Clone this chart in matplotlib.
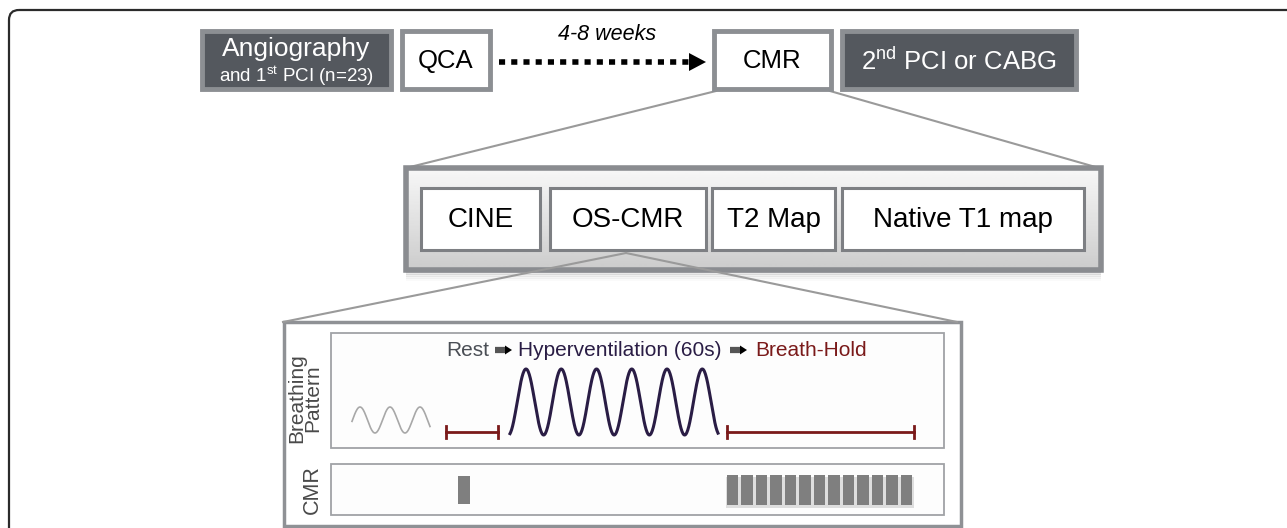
import numpy as np
import matplotlib
matplotlib.use("Agg")
import matplotlib.pyplot as plt
from matplotlib.patches import Rectangle, FancyBboxPatch, Polygon

plt.rcParams['font.family'] = ['Liberation Sans', 'DejaVu Sans']
plt.rcParams['mathtext.fontset'] = 'custom'
plt.rcParams['mathtext.rm'] = 'Liberation Sans'
plt.rcParams['mathtext.it'] = 'Liberation Sans:italic'

# diagram content
top_steps = ['Angiography', 'QCA', 'CMR', r'2$^{\mathrm{nd}}$ PCI or CABG']
top_sub = r'and 1$^{\mathrm{st}}$ PCI (n=23)'
interval = '4-8 weeks'
cmr_parts = ['CINE', 'OS-CMR', 'T2 Map', 'Native T1 map']
phases = ['Rest', 'Hyperventilation (60s)', 'Breath-Hold']
rest_cycles = 2.6
hv_cycles = 5.9
n_breathhold_scans = 13
row_labels = ['Breathing\nPattern', 'CMR']

dark = '#54585e'
edge = '#8c8f93'
purple = '#2a1d45'
red = '#7a1a1a'

fig = plt.figure(figsize=(12.87, 5.28), dpi=100)
ax = fig.add_axes([0, 0, 1, 1])
ax.set_xlim(0, 1287)
ax.set_ylim(528, 0)
ax.axis('off')

# outer frame (only top/left visible)
ax.add_patch(FancyBboxPatch((9, 10), 1400, 700, boxstyle='round,pad=0,rounding_size=10',
                            fc='none', ec='#2b2b2b', lw=1.6))

# top row
tops = [(200, 393, True), (400, 492, False), (712, 833, False), (840, 1078, True)]
for (x0, x1, filled), lab in zip(tops, top_steps):
    ax.add_patch(Rectangle((x0 + 2, 31), x1 - x0 - 4, 58, fc=dark if filled else 'white',
                           ec=edge, lw=3.5, zorder=3))
    cx = (x0 + x1) / 2
    col = 'white' if filled else 'black'
    if lab == 'Angiography':
        ax.text(cx, 49, lab, ha='center', va='center', color=col, fontsize=19, zorder=4)
        ax.text(cx, 76, top_sub, ha='center', va='center', color=col, fontsize=13.5, zorder=4)
    else:
        ax.text(cx, 61, lab, ha='center', va='center', color=col, fontsize=18.5, zorder=4)

ax.plot([499, 690], [62, 62], color='black', lw=4, ls=(0, (1.1, 1.1)), zorder=3)
ax.add_patch(Polygon([[689, 53], [689, 71], [706, 62]], closed=True, fc='black', ec='none', zorder=3))
ax.text(607, 35, interval, ha='center', va='center', style='italic', fontsize=15.5)

# connector lines CMR -> middle panel
ax.plot([716, 406], [91, 168], color='#9a9a9a', lw=1.5, zorder=1)
ax.plot([830, 1099], [91, 168], color='#9a9a9a', lw=1.5, zorder=1)

# middle container with gradient + shadow
for k, a in enumerate([0.12, 0.09, 0.06, 0.04, 0.02]):
    ax.add_patch(Rectangle((406, 270 + k * 2), 695, 3, fc='black', alpha=a, ec='none', zorder=1))
grad = np.linspace(0.97, 0.80, 64).reshape(-1, 1)
ax.imshow(grad, extent=(406, 1101, 270, 168), cmap='gray', vmin=0, vmax=1,
          aspect='auto', zorder=1.5, interpolation='bilinear')
ax.add_patch(Rectangle((406, 168), 695, 102, fc='none', ec='#8a8c90', lw=4, zorder=2))
mids = [(421, 540), (550, 706), (712, 835), (842, 1084)]
for (x0, x1), lab in zip(mids, cmr_parts):
    ax.add_patch(Rectangle((x0, 188), x1 - x0, 62, fc='white', ec='#7d7f83', lw=2.2, zorder=3))
    ax.text((x0 + x1) / 2, 220, lab, ha='center', va='center', fontsize=20, zorder=4)

# connector lines OS-CMR -> bottom panel
ax.plot([626, 283], [253, 322], color='#9a9a9a', lw=1.5, zorder=3.5)
ax.plot([626, 957], [253, 322], color='#9a9a9a', lw=1.5, zorder=3.5)

# bottom container
ax.add_patch(Rectangle((284, 322), 677, 204, fc='white', ec='#8f9195', lw=2.5, zorder=2))
ax.add_patch(Rectangle((331, 333), 613, 115, fc='#fdfdfd', ec='#a0a2a6', lw=1.3, zorder=2))
ax.add_patch(Rectangle((331, 464), 613, 51, fc='#fdfdfd', ec='#a0a2a6', lw=1.3, zorder=2))

ax.text(305, 398, row_labels[0], rotation=90, ha='center', va='center', fontsize=15,
        color='#4a4a4a', linespacing=0.82)
ax.text(312, 490, row_labels[1], rotation=90, ha='center', va='center', fontsize=15.5,
        color='#4a4a4a')

# phase titles
ax.text(468, 350, phases[0], ha='center', va='center', fontsize=15, color='#4a4e55', zorder=4)
ax.text(620, 350, phases[1], ha='center', va='center', fontsize=15, color=purple, zorder=4)
ax.text(811, 350, phases[2], ha='center', va='center', fontsize=15, color=red, zorder=4)
for ax0 in (495, 730):
    ax.plot([ax0, ax0 + 11], [350, 350], color='#555555', lw=4.5, solid_capstyle='butt', zorder=4)
    ax.add_patch(Polygon([[ax0 + 10, 345.5], [ax0 + 10, 354.5], [ax0 + 17, 350]],
                         fc='black', ec='none', zorder=4))

# breathing curves
xr = np.linspace(352, 430, 200)
per_r = (430 - 352) / rest_cycles
ax.plot(xr, 420 - 13 * np.cos(2 * np.pi * (xr - 360) / per_r), color='#a8a8a8', lw=1.2, zorder=4)

xh = np.linspace(510, 718, 400)
per_h = (718 - 510) / hv_cycles
ax.plot(xh, 402 - 33 * np.cos(2 * np.pi * (xh - 526) / per_h), color=purple, lw=2.2, zorder=4)

# rest / breath-hold spans
for x0, x1 in [(446, 498), (727, 914)]:
    ax.plot([x0, x1], [432, 432], color=red, lw=2, zorder=4)
    ax.plot([x0, x0], [426, 438], color=red, lw=2, zorder=4)
    ax.plot([x1, x1], [426, 438], color=red, lw=2, zorder=4)

# CMR acquisitions
ax.add_patch(Rectangle((458, 476), 12, 28, fc='#7f7f7f', ec='none', zorder=4))
ax.add_patch(Rectangle((726, 477), 188, 31, fc='#dedede', ec='none', zorder=3))
bw = 188 / n_breathhold_scans
for i in range(n_breathhold_scans):
    ax.add_patch(Rectangle((726 + i * bw + 1, 475), bw - 3, 30, fc='#7f7f7f', ec='none', zorder=4))

ax.set_xlim(0, 1287)
ax.set_ylim(528, 0)
fig.savefig('out.png', dpi=100)
